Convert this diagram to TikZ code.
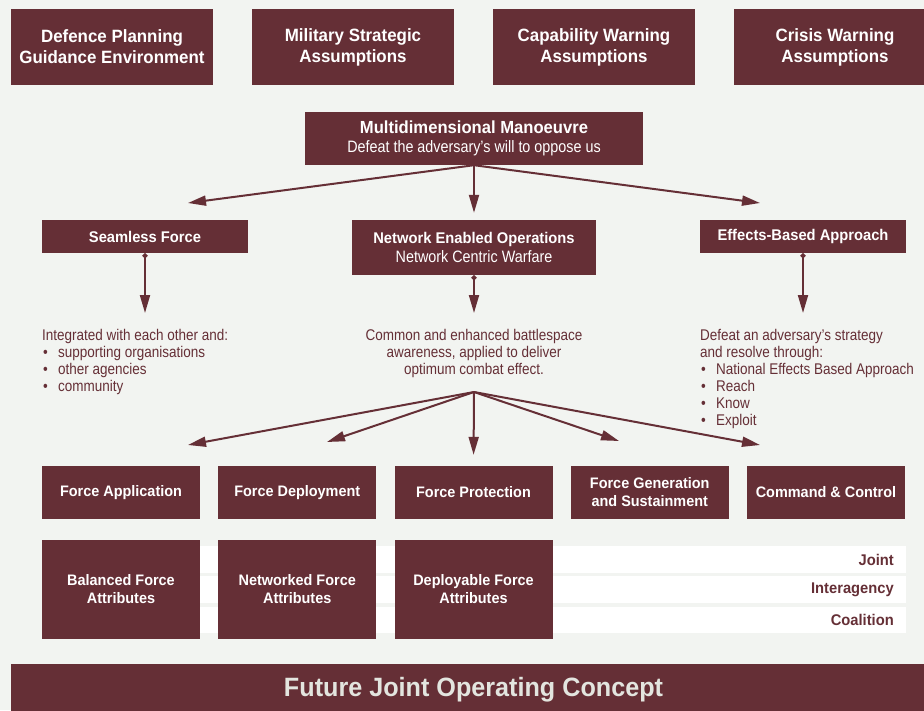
\documentclass[tikz,border=0pt]{standalone}
\usepackage{fontspec}
\setmainfont{Liberation Sans}[FakeStretch=0.87 ,BoldFeatures={FakeStretch=0.95}]
\usetikzlibrary{positioning,arrows.meta}
\definecolor{wine}{HTML}{652F36}
\definecolor{paper}{HTML}{F2F4F1}
\definecolor{pale}{HTML}{E3E5DF}
\newcommand{\blt}{\makebox[16pt][l]{\hspace{1pt}\textbullet}}

\begin{document}
\begin{tikzpicture}[x=1pt ,y=-1pt ,on grid ,
box/.style ={ fill=wine ,text=white ,align=center ,inner sep=0pt},
topbox/.style ={ box ,minimum width=202pt ,minimum height=76pt ,
  font=\bfseries\fontsize{17.8}{21}\selectfont},
headbox/.style ={ box ,font=\fontsize{16.5}{18.5}\selectfont},
rowbox/.style ={ box ,minimum width=158pt ,minimum height=53pt ,
  font=\bfseries\fontsize{15.2}{18}\selectfont},
attrbox/.style ={ rowbox ,minimum height=99pt},
note/.style ={ text=wine ,inner sep=0pt ,font=\fontsize{15.5}{17}\selectfont},
tag/.style ={ text=wine ,inner sep=0pt ,anchor=east ,font=\bfseries\fontsize{15.5}{18}\selectfont},
link/.style ={ wine ,line width=2pt ,-{Triangle[length=18pt,width=10pt]}},
drop/.style ={ link ,{Circle[length=5pt]}-{Triangle[length=18pt,width=10pt]}}]
\useasboundingbox (0,0) rectangle (924,710);
\fill[paper] (0,0) rectangle (924,710);
% assumptions
\node[topbox] (DPG) at (112,47) {Defence Planning\\Guidance Environment};
\node[topbox] (MSA) [right=241pt of DPG] {Military Strategic\\Assumptions};
\node[topbox] (CWA) [right=241pt of MSA] {Capability Warning\\Assumptions};
\node[topbox] (CRW) [right=241pt of CWA] {Crisis Warning\\Assumptions};
% manoeuvre
\node[headbox ,minimum width=338pt ,minimum height=53pt] (MM) at (474,138.5)
  {{\bfseries\fontsize{17.5}{19}\selectfont Multidimensional Manoeuvre}\\Defeat the adversary's will to oppose us};
\node[headbox ,font=\bfseries\fontsize{15.5}{18}\selectfont ,minimum width=206pt ,minimum height=33pt] (SF) at (145,236.5) {Seamless Force};
\node[headbox ,minimum width=244pt ,minimum height=55pt] (NEO) at (474,247.5)
  {{\bfseries\fontsize{15.5}{18}\selectfont Network Enabled Operations}\\Network Centric Warfare};
\node[headbox ,font=\bfseries\fontsize{15.5}{18}\selectfont ,minimum width=206pt ,minimum height=33pt] (EBA) at (803,236.5) {Effects-Based Approach};
\coordinate (toSF) at (188,203);
\coordinate (toEBA) at (760,203);
\draw[link] (MM.south) -- (toSF);
\draw[link] (MM.south) -- (toEBA);
\draw[link ,shorten >=7pt] (MM.south) -- (NEO.north);
% notes
\node[note ,anchor=north west ,align=left] (SFtext) at (42,329)
  {Integrated with each other and:\\\blt supporting organisations\\\blt other agencies\\\blt community};
\node[note ,anchor=north ,align=center] (NEOtext) at (474,329)
  {Common and enhanced battlespace\\awareness, applied to deliver\\optimum combat effect.};
\node[note ,anchor=north west ,align=left] (EBAtext) at (700,329)
  {Defeat an adversary's strategy\\and resolve through:\\\blt National Effects Based Approach\\\blt Reach\\\blt Know\\\blt Exploit};
\coordinate (SFend) at (145,313);
\coordinate (NEOend) at (474,313);
\coordinate (EBAend) at (803,313);
\draw[drop] (SF.south) -- (SFend);
\draw[drop] (NEO.south) -- (NEOend);
\draw[drop] (EBA.south) -- (EBAend);
% functions
\node[rowbox] (FA) at (121,492.5) {Force Application};
\node[rowbox] (FD) [right=176.25pt of FA] {Force Deployment};
\node[rowbox] (FP) [right=176.25pt of FD] {Force Protection};
\node[rowbox] (FG) [right=176.25pt of FP] {Force Generation\\and Sustainment};
\node[rowbox] (CC) [right=176.25pt of FG] {Command \& Control};
\coordinate (fan) at (474,392);
\coordinate (toFA) at (188,445);
\coordinate (toFD) at (327,442);
\coordinate (toFG) at (619,441);
\coordinate (toCC) at (760,445);
\draw[link] (fan) -- (toFA);
\draw[link] (fan) -- (toFD);
\draw[link ,shorten >=11pt] (fan) -- (FP.north);
\draw[link] (fan) -- (toFG);
\draw[link] (fan) -- (toCC);
% attributes
\fill[white] (42,546) rectangle (906,573);
\fill[white] (42,576) rectangle (906,603);
\fill[white] (42,607) rectangle (906,633);
\node[tag] (J) at (894,559.5) {Joint};
\node[tag] (I) at (894,589.5) {Interagency};
\node[tag] (C) at (894,620) {Coalition};
\node[attrbox] (BFA) [below=97pt of FA] {Balanced Force\\Attributes};
\node[attrbox] (NFA) [below=97pt of FD] {Networked Force\\Attributes};
\node[attrbox] (DFA) [below=97pt of FP] {Deployable Force\\Attributes};
\node[box ,minimum width=925pt ,minimum height=52pt ,text=pale ,
  font=\bfseries\fontsize{26.5}{30}\selectfont] (FJOC) at (473.5,690) {Future Joint Operating Concept};
\end{tikzpicture}
\end{document}
